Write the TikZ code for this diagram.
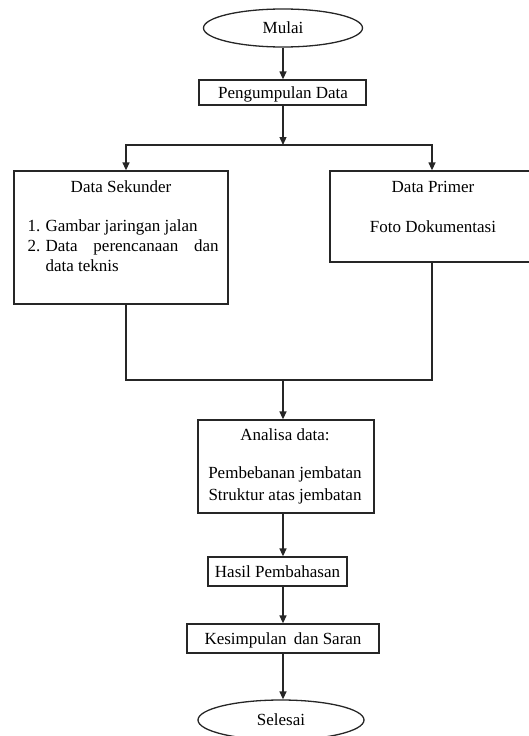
\documentclass[tikz,border=0pt]{standalone}
\usepackage{fontspec}
\setmainfont{Liberation Serif}
\usetikzlibrary{shapes.geometric,arrows.meta}
\begin{document}
\begin{tikzpicture}[x=1pt,y=-1pt,
  line width=1.3pt,
  box/.style={draw=black!85, rectangle, inner sep=0pt},
  oval/.style={draw=black!85, ellipse, inner sep=0pt},
  lbl/.style={font=\fontsize{17}{20}\selectfont, inner sep=0pt, text height=11pt, text depth=0pt},
  arr/.style={draw=black!85, -{Triangle[length=8pt,width=7pt]}},
  ln/.style={draw=black!85}]
\useasboundingbox (0,0) rectangle (528,736);
% shapes
\node[oval, minimum width=159pt, minimum height=38pt] (mulai) at (283,28) {};
\node[box, minimum width=167pt, minimum height=25pt] (peng) at (282.5,92.5) {};
\node[box, minimum width=214pt, minimum height=133pt] (sek) at (121,237.5) {};
\node[box, minimum width=200pt, minimum height=91pt] (prim) at (430,216.5) {};
\node[box, minimum width=176pt, minimum height=93pt] (ana) at (286,466.5) {};
\node[box, minimum width=139pt, minimum height=29pt] (hasil) at (277.5,571.5) {};
\node[box, minimum width=192pt, minimum height=29pt] (kes) at (283,638.5) {};
\node[oval, minimum width=166pt, minimum height=40pt] (sel) at (281,720) {};
% coordinates
\coordinate (j1) at (283,145);
\coordinate (j2) at (283,380);
% connectors
\draw[arr] (mulai.south -| j1) -- (peng.north -| j1);
\draw[arr] (peng.south -| j1) -- (j1);
\draw[arr] (j1) -| ([xshift=5pt]sek.north);
\draw[arr] (j1) -| ([xshift=2pt]prim.north);
\draw[ln] ([xshift=5pt]sek.south) |- (j2);
\draw[ln] ([xshift=2pt]prim.south) |- (j2);
\draw[arr] (j2) -- (j2 |- ana.north);
\draw[arr] (ana.south -| j1) -- (hasil.north -| j1);
\draw[arr] (hasil.south -| j1) -- (kes.north -| j1);
\draw[arr] (kes.south -| j1) -- (sel.north -| j1);
% texts
\node[lbl] (t1) at (283,28) {Mulai};
\node[lbl] (t2) at (283,92.5) {Pengumpulan Data};
\node[lbl] (t3) at (121,187) {Data Sekunder};
\node[lbl, anchor=west] (t4a) at (27,226) {1.};
\node[lbl, anchor=west] (t4) at (45,226) {Gambar jaringan jalan};
\node[lbl, anchor=west] (t5a) at (27,246) {2.};
\node[lbl, anchor=west] (t5) at (45,246) {\makebox[173pt][s]{Data perencanaan dan}};
\node[lbl, anchor=west] (t6) at (45,266) {data teknis};
\node[lbl] (t7) at (433,187) {Data Primer};
\node[lbl] (t8) at (433,227) {Foto Dokumentasi};
\node[lbl] (t9) at (285,435) {Analisa data:};
\node[lbl] (t10) at (285,473) {Pembebanan jembatan};
\node[lbl] (t11) at (285,495) {Struktur atas jembatan};
\node[lbl] (t12) at (277.5,571.5) {Hasil Pembahasan};
\node[lbl] (t13) at (283,638.5) {Kesimpulan\hspace{3pt} dan Saran};
\node[lbl] (t14) at (281,720) {Selesai};
\end{tikzpicture}
\end{document}
